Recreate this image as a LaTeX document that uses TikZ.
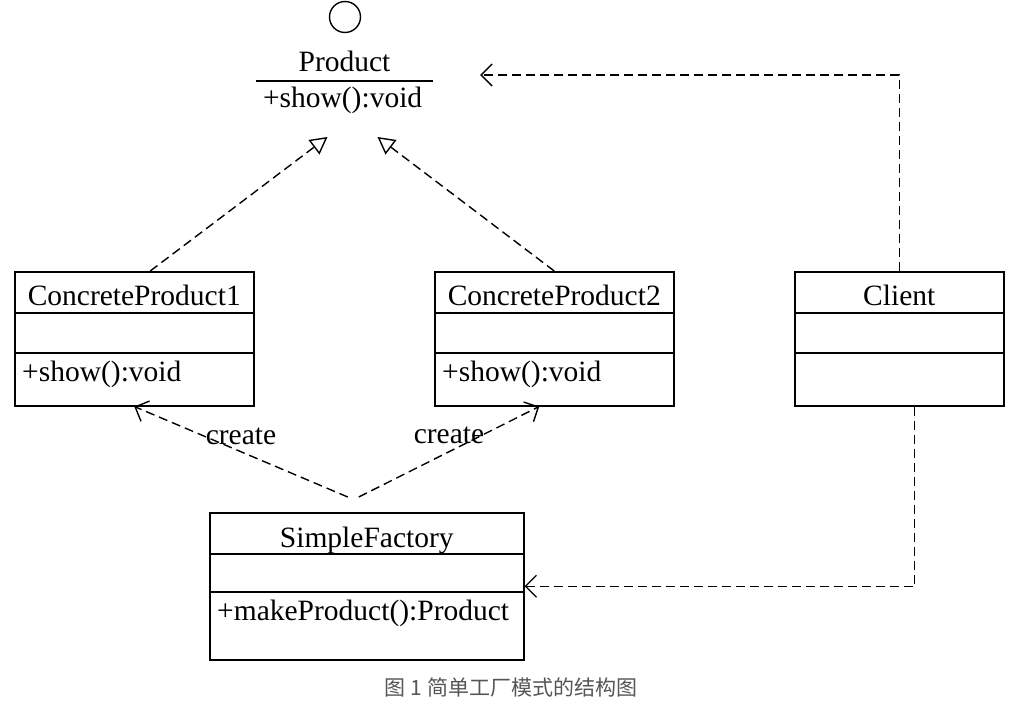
\documentclass[tikz,border=0pt]{standalone}
\usepackage{fontspec}
\setmainfont{Liberation Serif}
\newfontfamily\cjkfont{Noto Sans CJK SC}
\usepackage{xcolor}
\usetikzlibrary{positioning,arrows.meta}
\definecolor{capgray}{HTML}{555555}

\begin{document}
\begin{tikzpicture}[
    x=1pt, y=-1pt,
    classbox/.style={rectangle, draw, line width=1.5pt, anchor=north west, inner sep=0pt},
    txt/.style={font=\fontsize{29.5}{31}\selectfont, inner sep=0pt},
    dep/.style={line width=1.4pt, dash pattern=on 9pt off 5pt, -{Straight Barb[length=11pt, width=22pt]}},
    real/.style={line width=1.4pt, dash pattern=on 9pt off 5pt, -{Triangle[open, length=17pt, width=18pt]}}
]
\useasboundingbox (0,0) rectangle (1023,706);

% interface Product
\node[circle, draw, line width=1.4pt, minimum size=31pt, inner sep=0pt] (iface) at (345,17) {};
\node[minimum width=177pt, minimum height=0pt, inner sep=0pt] (prod) at (344.5,81) {};
\draw[line width=1.5pt] (prod.west) -- (prod.east);
\node[txt, anchor=base] (prodname) at ([yshift=9pt]prod.center) {Product};
\node[txt, anchor=base west] (prodop) at ([xshift=7pt, yshift=-27pt]prod.west) {+show():void};

% classes
\node[classbox, minimum width=239pt, minimum height=134pt] (cp1) at (14,271) {};
\node[classbox, minimum width=239pt, minimum height=134pt] (cp2) at (434,271) {};
\node[classbox, minimum width=209pt, minimum height=134pt] (client) at (794,271) {};
\node[classbox, minimum width=314pt, minimum height=147pt] (sf) at (209,512) {};

\foreach \b in {cp1,cp2,client}{
  \draw[line width=1.5pt] ([yshift=-42pt]\b.north west) -- ([yshift=-42pt]\b.north east);
  \draw[line width=1.5pt] ([yshift=-82pt]\b.north west) -- ([yshift=-82pt]\b.north east);
}
\draw[line width=1.5pt] ([yshift=-42pt]sf.north west) -- ([yshift=-42pt]sf.north east);
\draw[line width=1.5pt] ([yshift=-80pt]sf.north west) -- ([yshift=-80pt]sf.north east);

\node[txt, anchor=base] (cp1name) at ([yshift=-34pt]cp1.north) {ConcreteProduct1};
\node[txt, anchor=base west] (cp1op) at ([xshift=8pt, yshift=-110pt]cp1.north west) {+show():void};
\node[txt, anchor=base] (cp2name) at ([yshift=-34pt]cp2.north) {ConcreteProduct2};
\node[txt, anchor=base west] (cp2op) at ([xshift=8pt, yshift=-110pt]cp2.north west) {+show():void};
\node[txt, anchor=base] (clientname) at ([yshift=-34pt]client.north) {Client};
\node[txt, anchor=base] (sfname) at ([yshift=-35pt]sf.north) {SimpleFactory};
\node[txt, anchor=base west] (sfop) at ([xshift=8pt, yshift=-108pt]sf.north west) {+makeProduct():Product};

% realization
\draw[real] ([xshift=16pt]cp1.north) -- ([xshift=-17pt, yshift=-56pt]prod.center);
\draw[real] (cp2.north) -- ([xshift=33pt, yshift=-56pt]prod.center);

% create
\coordinate (sfL) at ([xshift=-19pt, yshift=15pt]sf.north);
\coordinate (sfR) at ([xshift=-8pt, yshift=15pt]sf.north);
\draw[dep] (sfL) -- node[txt, pos=0.5, anchor=base, yshift=7pt] (createL) {create} (cp1.south);
\draw[dep] (sfR) -- node[txt, pos=0.5, anchor=base, yshift=8pt] (createR) {create} ([xshift=-15pt]cp2.south);

% client dependencies
\coordinate (prodR) at ([xshift=47pt, yshift=6pt]prod.east);
\draw[dep] (client.north) |- (prodR);
\draw[dep] ([xshift=15.5pt]client.south) |- (sf.east);

\node[font=\cjkfont\fontsize{21}{22}\selectfont, text=capgray, inner sep=0pt] (caption) at (511,687) {图 1 简单工厂模式的结构图};
\end{tikzpicture}
\end{document}
